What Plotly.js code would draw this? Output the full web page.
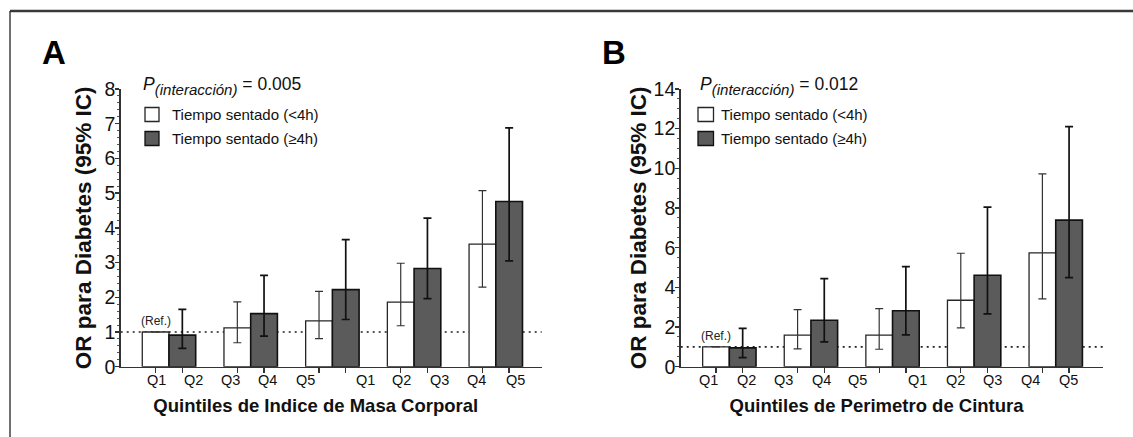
<!DOCTYPE html>
<html>
<head>
<meta charset="utf-8">
<script src="https://cdn.plot.ly/plotly-3.0.1.min.js"></script>
<style>html,body{margin:0;padding:0;background:#fff;}#chart{width:1133px;height:437px;}</style>
</head>
<body>
<div id="chart"></div>
<script>
// ---------- data ----------
const groups = [0, 1, 2, 3, 4];
const tickLabels = ['Q1','Q2','Q3','Q4','Q5','Q1','Q2','Q3','Q4','Q5'];
const seriesNames = ['Tiempo sentado (<4h)', 'Tiempo sentado (\u22654h)'];
const seriesFill = ['#ffffff', '#5b5b5b'];
const seriesEdge = ['#262626', '#111111'];

// Panel A: Indice de Masa Corporal
const A_low    = [1.00, 1.12, 1.32, 1.86, 3.53];
const A_low_hi = [null, 1.87, 2.17, 2.98, 5.07];
const A_low_lo = [null, 0.69, 0.81, 1.18, 2.29];
const A_high    = [0.91, 1.53, 2.22, 2.83, 4.76];
const A_high_hi = [1.65, 2.63, 3.66, 4.28, 6.88];
const A_high_lo = [0.53, 0.88, 1.36, 1.96, 3.05];

// Panel B: Perimetro de Cintura
const B_low    = [1.00, 1.59, 1.59, 3.35, 5.74];
const B_low_hi = [null, 2.88, 2.93, 5.72, 9.72];
const B_low_lo = [null, 0.90, 0.88, 1.96, 3.42];
const B_high    = [0.95, 2.34, 2.82, 4.61, 7.39];
const B_high_hi = [1.93, 4.44, 5.05, 8.04, 12.1];
const B_high_lo = [0.46, 1.25, 1.60, 2.66, 4.49];

const REF_OR = 1;
const pA = '0.005';
const pB = '0.012';

// label positions along the x axis (in group units), as printed in the figure
const labelPosA = [-0.15, 0.30, 0.75, 1.20, 1.67, 2.40, 2.85, 3.31, 3.76, 4.24];
const labelPosB = [-0.26, 0.205, 0.66, 1.13, 1.57, 2.31, 2.77, 3.22, 3.69, 4.16];

// ---------- build ----------
const FONT = 'Liberation Sans, Arial, Helvetica, sans-serif';
const BARGAP = 0.346;
const half = (1 - BARGAP) / 4;   // offset of each bar centre from group centre
const barCentres = [];
groups.forEach(g => { barCentres.push(g - half, g + half); });

function errs(v, hi, lo) {
  return {
    plus: v.map((x, i) => hi[i] == null ? null : +(hi[i] - x).toFixed(3)),
    minus: v.map((x, i) => lo[i] == null ? null : +(x - lo[i]).toFixed(3))
  };
}

function traces(low, lowHi, lowLo, high, highHi, highLo, xa, ya) {
  const eL = errs(low, lowHi, lowLo), eH = errs(high, highHi, highLo);
  return [
    {type: 'bar', x: groups, y: low, name: seriesNames[0], xaxis: xa, yaxis: ya, showlegend: false,
     marker: {color: seriesFill[0], line: {color: seriesEdge[0], width: 1.3}},
     error_y: {type: 'data', symmetric: false, array: eL.plus, arrayminus: eL.minus,
               color: '#333333', thickness: 1.2, width: 4},
     hoverinfo: 'y'},
    {type: 'bar', x: groups, y: high, name: seriesNames[1], xaxis: xa, yaxis: ya, showlegend: false,
     marker: {color: seriesFill[1], line: {color: seriesEdge[1], width: 1.6}},
     error_y: {type: 'data', symmetric: false, array: eH.plus, arrayminus: eH.minus,
               color: '#111111', thickness: 1.7, width: 4},
     hoverinfo: 'y'}
  ];
}

const data = [].concat(
  traces(A_low, A_low_hi, A_low_lo, A_high, A_high_hi, A_high_lo, 'x', 'y'),
  traces(B_low, B_low_hi, B_low_lo, B_high, B_high_hi, B_high_lo, 'x2', 'y2')
);

const NB = '&nbsp;'.repeat(6);
function xAxis(domain, range, title, anchor) {
  return {
    domain: domain, range: range, anchor: anchor, showgrid: false, zeroline: false,
    showline: true, linecolor: '#333', linewidth: 1.5,
    tickmode: 'array', tickvals: barCentres, ticktext: barCentres.map(() => ''),
    ticks: 'outside', ticklen: 5, tickwidth: 1.3, tickcolor: '#333',
    title: {text: '<b>' + title + '</b>' + NB, font: {family: FONT, size: 18.5, color: '#111'}, standoff: 24},
    fixedrange: true
  };
}
function yAxis(domain, range, dtick, minorDtick, anchor, standoff) {
  return {
    domain: domain, range: range, anchor: anchor, showgrid: false, zeroline: false,
    showline: true, linecolor: '#333', linewidth: 1.5,
    dtick: dtick, tick0: 0, ticks: 'outside', ticklen: 4, tickwidth: 1.3, tickcolor: '#333',
    ticklabelstandoff: -4,
    minor: {dtick: minorDtick, ticks: 'outside', ticklen: 2.5, tickwidth: 1, tickcolor: '#555', showgrid: false},
    tickfont: {family: FONT, size: 19.5, color: '#111'},
    title: {text: '<b>OR para Diabetes (95% IC)</b>', font: {family: FONT, size: 22.5, color: '#111'}, standoff: standoff},
    fixedrange: true
  };
}

const W = 1133, H = 437;
const px = v => v / W, py = v => 1 - v / H;

const annotations = [];
const shapes = [];
function panelAnn(letter, letterX, pX, pVal, labelPos, xref, sqX, sqW, textX) {
  annotations.push({xref: 'paper', yref: 'paper', x: px(letterX), y: py(52), text: '<b>' + letter + '</b>',
    showarrow: false, xanchor: 'center', yanchor: 'middle', font: {family: FONT, size: 33, color: '#000'}});
  annotations.push({xref: 'paper', yref: 'paper', x: px(pX), y: py(86),
    text: '<span style="font-size:17.5px"><i>P</i></span><sub><i>(interacción)</i></sub><span style="font-size:17.5px"> = ' + pVal + '</span>',
    showarrow: false, xanchor: 'left', yanchor: 'middle', align: 'left', font: {family: FONT, size: 21.5, color: '#111'}});
  labelPos.forEach((p, i) => annotations.push({xref: xref, yref: 'paper', x: p, y: py(380), text: tickLabels[i],
    showarrow: false, xanchor: 'center', yanchor: 'middle', font: {family: FONT, size: 14.5, color: '#111'}}));
  annotations.push({xref: xref, yref: xref === 'x' ? 'y' : 'y2', x: groups[0] - half, y: REF_OR, text: '(Ref.)',
    showarrow: false, xanchor: 'center', yanchor: 'bottom', yshift: 2, font: {family: FONT, size: 12, color: '#222'}});
  // legend (key squares + labels)
  const rowsY = [114.5, 138.5];
  seriesNames.forEach((nm, i) => {
    shapes.push({type: 'rect', xref: 'paper', yref: 'paper',
      x0: px(sqX), x1: px(sqX + sqW), y0: py(rowsY[i] + 7), y1: py(rowsY[i] - 7),
      fillcolor: seriesFill[i], line: {color: seriesEdge[i], width: 1.3}});
    annotations.push({xref: 'paper', yref: 'paper', x: px(textX), y: py(rowsY[i]), text: nm,
      showarrow: false, xanchor: 'left', yanchor: 'middle', font: {family: FONT, size: 15, color: '#111'}});
  });
}
panelAnn('A', 54, 141, pA, labelPosA, 'x', 145, 14, 170);
panelAnn('B', 614, 698, pB, labelPosB, 'x2', 698, 15.5, 719);

shapes.push(
  {type: 'line', xref: 'x domain', yref: 'y', x0: 0, x1: 1, y0: REF_OR, y1: REF_OR, layer: 'below',
   line: {color: '#222', width: 1.6, dash: '2px,4px'}},
  {type: 'line', xref: 'x2 domain', yref: 'y2', x0: 0, x1: 1, y0: REF_OR, y1: REF_OR, layer: 'below',
   line: {color: '#222', width: 1.6, dash: '2px,4px'}},
  {type: 'line', xref: 'paper', yref: 'paper', x0: px(10), x1: 1, y0: py(11), y1: py(11),
   line: {color: '#3a3a3a', width: 2.5}},
  {type: 'line', xref: 'paper', yref: 'paper', x0: px(10), x1: px(10), y0: 0, y1: py(11),
   line: {color: '#222', width: 1.3}}
);

const yDom = [1 - 366.7 / H, 1 - 89 / H];

const layout = {
  width: W, height: H, margin: {l: 0, r: 0, t: 0, b: 0},
  paper_bgcolor: '#fff', plot_bgcolor: 'rgba(0,0,0,0)',
  barmode: 'group', bargap: BARGAP, bargroupgap: 0,
  showlegend: false,
  xaxis: xAxis([120.7 / W, 541.7 / W], [-0.591, 4.562], 'Quintiles de Indice de Masa Corporal', 'y'),
  yaxis: yAxis(yDom, [0, 8], 1, 0.2, 'x', 6),
  xaxis2: xAxis([680.7 / W, 1103.3 / W], [-0.596, 4.583], 'Quintiles de Perimetro de Cintura', 'y2'),
  yaxis2: yAxis(yDom, [0, 14], 2, 0.5, 'x2', 0),
  annotations: annotations,
  shapes: shapes,
  font: {family: FONT, size: 12, color: '#111'}
};

Plotly.newPlot('chart', data, layout, {displayModeBar: false, staticPlot: true});
</script>
</body>
</html>
